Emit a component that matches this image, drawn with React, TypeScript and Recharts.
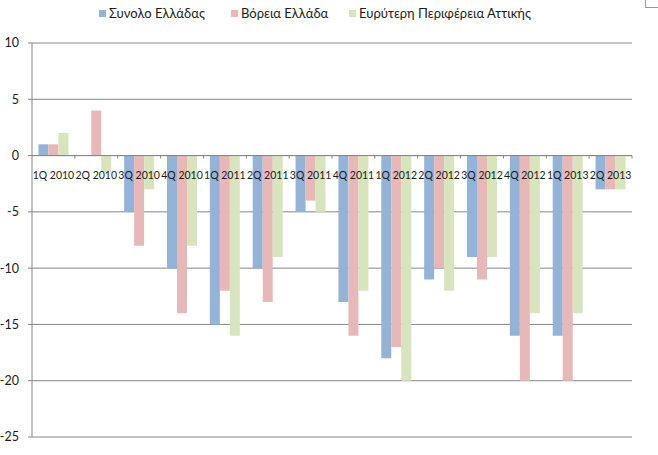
import React from "react";
import {
  BarChart,
  Bar,
  XAxis,
  YAxis,
  CartesianGrid,
  ReferenceLine,
  ReferenceDot,
} from "recharts";

const categories = [
  "1Q 2010",
  "2Q 2010",
  "3Q 2010",
  "4Q 2010",
  "1Q 2011",
  "2Q 2011",
  "3Q 2011",
  "4Q 2011",
  "1Q 2012",
  "2Q 2012",
  "3Q 2012",
  "4Q 2012",
  "1Q 2013",
  "2Q 2013",
];

const synoloEllada = [1, 0, -5, -10, -15, -10, -5, -13, -18, -11, -9, -16, -16, -3];
const voreiaEllada = [1, 4, -8, -14, -12, -13, -4, -16, -17, -10, -11, -20, -20, -3];
const attiki = [2, -1.5, -3, -8, -16, -9, -5, -12, -20, -12, -9, -14, -14, -3];

const yTicks = [-25, -20, -15, -10, -5, 0, 5, 10];

const series = [
  { key: "synolo", name: "Συνολο Ελλάδας", color: "#95B3D7", values: synoloEllada },
  { key: "voreia", name: "Βόρεια Ελλάδα", color: "#E6B9B8", values: voreiaEllada },
  { key: "attiki", name: "Ευρύτερη Περιφέρεια Αττικής", color: "#D7E4BD", values: attiki },
];

const data = categories.map((name, i) => {
  const row: Record<string, string | number> = { name };
  series.forEach((s) => {
    row[s.key] = s.values[i];
  });
  return row;
});

const W = 658;
const H = 455;
const margin = { top: 43, right: 26, bottom: 18, left: 0 };
const Y_AXIS_W = 32;
const halfBand = (W - margin.left - margin.right - Y_AXIS_W) / categories.length / 2;
const FONT = "Lato, 'Open Sans', sans-serif";
const GRID = "#868686";

// label under the zero line plus the small tick at the right edge of each category
const CategoryMark = (props: any) => {
  const { cx, cy, label } = props;
  if (cx == null || cy == null) return null;
  return (
    <g>
      <line x1={cx + halfBand} x2={cx + halfBand} y1={cy} y2={cy + 3} stroke={GRID} />
      <text
        x={cx}
        y={cy + 23}
        textAnchor="middle"
        fontSize={10.5}
        fontFamily={FONT}
        fill="#1a1a1a"
      >
        {label}
      </text>
    </g>
  );
};

const legendLeft = [99, 231, 349];

export default function App() {
  return (
    <div style={{ position: "absolute", left: 0, top: 0, width: W, height: H, background: "#fff" }}>
      <div
        style={{
          position: "absolute",
          left: 645,
          top: -1,
          width: 13,
          height: 8,
          borderLeft: "1px solid #999",
          borderBottom: "1px solid #999",
        }}
      />
      {series.map((s, i) => (
        <div
          key={s.key}
          style={{
            position: "absolute",
            left: legendLeft[i],
            top: 5,
            display: "flex",
            alignItems: "center",
            fontFamily: FONT,
            fontSize: 13,
            color: "#1a1a1a",
            whiteSpace: "nowrap",
          }}
        >
          <span
            style={{
              display: "inline-block",
              width: 7,
              height: 7,
              background: s.color,
              marginRight: 3,
            }}
          />
          {s.name}
        </div>
      ))}
      <BarChart
        width={W}
        height={H}
        data={data}
        margin={margin}
        barCategoryGap="15%"
        barGap={0}
      >
        <CartesianGrid vertical={false} stroke={GRID} />
        <XAxis dataKey="name" hide />
        <YAxis
          width={Y_AXIS_W}
          domain={[-25, 10]}
          ticks={yTicks}
          interval={0}
          tickSize={4}
          tickMargin={9}
          stroke={GRID}
          tick={{ fill: "#1a1a1a", fontSize: 12.5, fontFamily: FONT }}
        />
        {series.map((s) => (
          <Bar
            key={s.key}
            dataKey={s.key}
            name={s.name}
            fill={s.color}
            isAnimationActive={false}
          />
        ))}
        <ReferenceLine y={0} stroke={GRID} />
        {categories.map((c) => (
          <ReferenceDot
            key={c}
            x={c}
            y={0}
            r={0}
            shape={(p: any) => <CategoryMark {...p} label={c} />}
          />
        ))}
      </BarChart>
    </div>
  );
}
